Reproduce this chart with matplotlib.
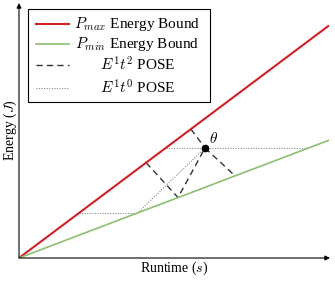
import matplotlib
matplotlib.use("Agg")
import matplotlib.pyplot as plt
from matplotlib.patches import Rectangle
from matplotlib.lines import Line2D

plt.rcParams['font.family'] = ['Liberation Serif', 'DejaVu Serif']
plt.rcParams['mathtext.fontset'] = 'cm'

# ---- data (arbitrary units) ----
bound_x = [0, 10]
pmax_y = [0, 7.5]
pmin_y = [0, 3.8]

pose_x = 6.0
pose_y = 3.55

# E1t2 POSE dashed construction segments
t2_seg1_x = [5.544, pose_x]
t2_seg1_y = [4.158, pose_y]
t2_seg2_x = [pose_x, 6.97]
t2_seg2_y = [pose_y, 2.65]
t2_seg3_x = [4.10, 5.13, pose_x]
t2_seg3_y = [3.075, 1.95, pose_y]

# E1t0 POSE dotted construction segments
t0_upper_x = [4.73, 9.34]
t0_upper_y = [3.55, 3.55]
t0_lower_x = [1.94, 3.82]
t0_lower_y = [1.45, 1.45]
t0_diag_x = [3.82, pose_x]
t0_diag_y = [1.45, pose_y]

theta_pos = (6.29, 3.84)

labels = [r"$P_{max}$ Energy Bound", r"$P_{min}$ Energy Bound",
          r"$E^1t^2$ POSE", r"$E^1t^0$ POSE"]

red = '#cf2027'
green = '#8dbf72'
grey = '#8a8a8a'

fig = plt.figure(figsize=(3.35, 2.88), dpi=100)
ax = fig.add_axes([19/335, 30/288, 311/335, 255/288])
ax.set_xlim(0, 311/31)
ax.set_ylim(0, 255/31)

ax.plot(bound_x, pmax_y, color=red, lw=1.5, solid_capstyle='butt', zorder=3)
ax.plot(bound_x, pmin_y, color=green, lw=1.2, solid_capstyle='butt', zorder=3)

dash_kw = dict(color='#333333', lw=1.0, linestyle=(0, (4.5, 3)), zorder=2)
ax.plot(t2_seg1_x, t2_seg1_y, **dash_kw)
ax.plot(t2_seg2_x, t2_seg2_y, **dash_kw)
ax.plot(t2_seg3_x, t2_seg3_y, **dash_kw)

dot_kw = dict(color=grey, lw=0.8, linestyle=(0, (1, 1.3)), zorder=1)
ax.plot(t0_upper_x, t0_upper_y, **dot_kw)
ax.plot(t0_lower_x, t0_lower_y, **dot_kw)
ax.plot(t0_diag_x, t0_diag_y, **dot_kw)

ax.plot([pose_x], [pose_y], 'o', color='black', ms=4.5, zorder=5)
ax.text(theta_pos[0], theta_pos[1], r"$\theta$", fontsize=11, ha='center', va='center')

# axes with arrows
for s in ['top', 'right', 'left', 'bottom']:
    ax.spines[s].set_visible(False)
ax.set_xticks([])
ax.set_yticks([])
ax.annotate('', xy=(1.0, 0), xytext=(0, 0), xycoords='axes fraction',
            arrowprops=dict(arrowstyle='-|>', color='black', lw=0.8,
                            mutation_scale=7, shrinkA=0, shrinkB=0))
ax.annotate('', xy=(0, 1.0), xytext=(0, 0), xycoords='axes fraction',
            arrowprops=dict(arrowstyle='-|>', color='black', lw=0.8,
                            mutation_scale=7, shrinkA=0, shrinkB=0))

ax.set_xlabel(r"Runtime ($s$)", fontsize=10, labelpad=1)
ax.set_ylabel(r"Energy ($J$)", fontsize=10, labelpad=0)

# legend (drawn with centered labels)
tr = ax.transAxes
ax.add_patch(Rectangle((0.029, 0.612), 0.585, 0.364, transform=tr,
                       facecolor='white', edgecolor='black', lw=0.8, zorder=6))
handle_styles = [dict(color=red, lw=1.5),
                 dict(color=green, lw=1.2),
                 dict(color='#333333', lw=1.0, linestyle=(0, (4.5, 3))),
                 dict(color=grey, lw=0.8, linestyle=(0, (1, 1.3)))]
ys = [0.917, 0.84, 0.758, 0.668]
for y, lab, st in zip(ys, labels, handle_styles):
    ax.add_line(Line2D([0.0547, 0.161], [y, y], transform=tr, zorder=7, **st))
    ax.text(0.381, y, lab, transform=tr, ha='center', va='center',
            fontsize=11, zorder=7)

fig.savefig('out.png', dpi=100)
